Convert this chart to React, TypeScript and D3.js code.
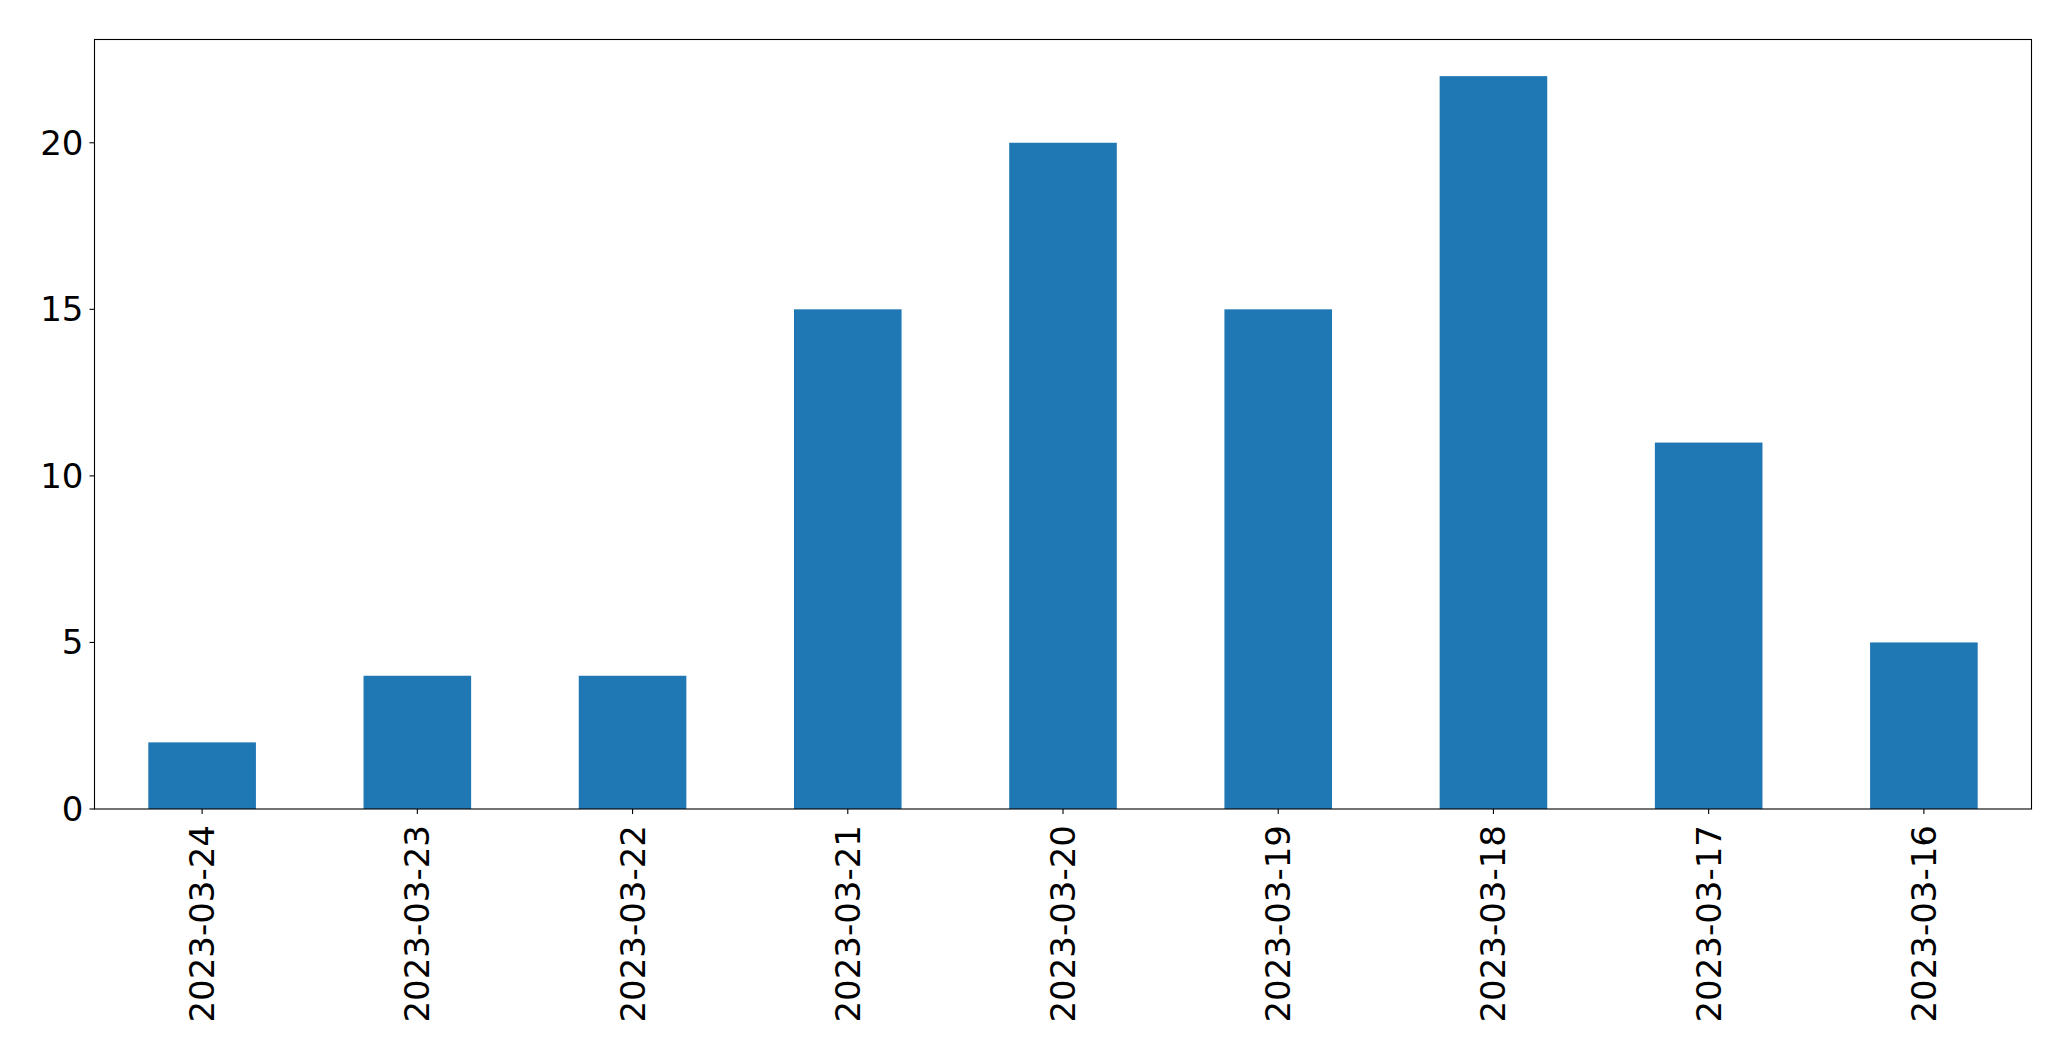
import React from "react";
import * as d3 from "d3";

const categories = [
  "2023-03-24",
  "2023-03-23",
  "2023-03-22",
  "2023-03-21",
  "2023-03-20",
  "2023-03-19",
  "2023-03-18",
  "2023-03-17",
  "2023-03-16",
];
const values = [2, 4, 4, 15, 20, 15, 22, 11, 5];
const yTicks = [0, 5, 10, 15, 20];

const W = 2071;
const H = 1061;
const left = 94.5;
const right = 2031.5;
const top = 39.5;
const bottom = 809;
const FONT = "'DejaVu Sans', sans-serif";
const FS = 34;

export default function App() {
  const x = d3
    .scaleLinear()
    .domain([-0.5, categories.length - 0.5])
    .range([left, right]);
  const yMax = d3.max(values)! * 1.05;
  const y = d3.scaleLinear().domain([0, yMax]).range([bottom, top]);
  const bw = x(0.25) - x(-0.25);

  return (
    <svg
      width={W}
      height={H}
      style={{ position: "absolute", left: 0, top: 0, background: "#fff" }}
    >
      <rect x={0} y={0} width={W} height={H} fill="#fff" />
      {values.map((v, i) => (
        <rect
          key={i}
          x={x(i) - bw / 2}
          y={y(v)}
          width={bw}
          height={y(0) - y(v)}
          fill="#1f77b4"
        />
      ))}
      <rect
        x={left}
        y={top}
        width={right - left}
        height={bottom - top}
        fill="none"
        stroke="#000"
        strokeWidth={1.1}
      />
      {yTicks.map((t) => (
        <g key={t}>
          <line x1={left - 5} x2={left} y1={y(t)} y2={y(t)} stroke="#000" strokeWidth={1.1} />
          <text
            x={left - 11}
            y={y(t)}
            textAnchor="end"
            dominantBaseline="central"
            fontFamily={FONT}
            fontSize={FS}
            fill="#000"
          >
            {t}
          </text>
        </g>
      ))}
      {categories.map((c, i) => (
        <g key={c}>
          <line x1={x(i)} x2={x(i)} y1={bottom} y2={bottom + 5} stroke="#000" strokeWidth={1.1} />
          <text
            transform={`translate(${x(i)},${bottom + 16}) rotate(-90)`}
            textAnchor="end"
            dominantBaseline="central"
            fontFamily={FONT}
            fontSize={FS}
            fill="#000"
          >
            {c}
          </text>
        </g>
      ))}
    </svg>
  );
}
